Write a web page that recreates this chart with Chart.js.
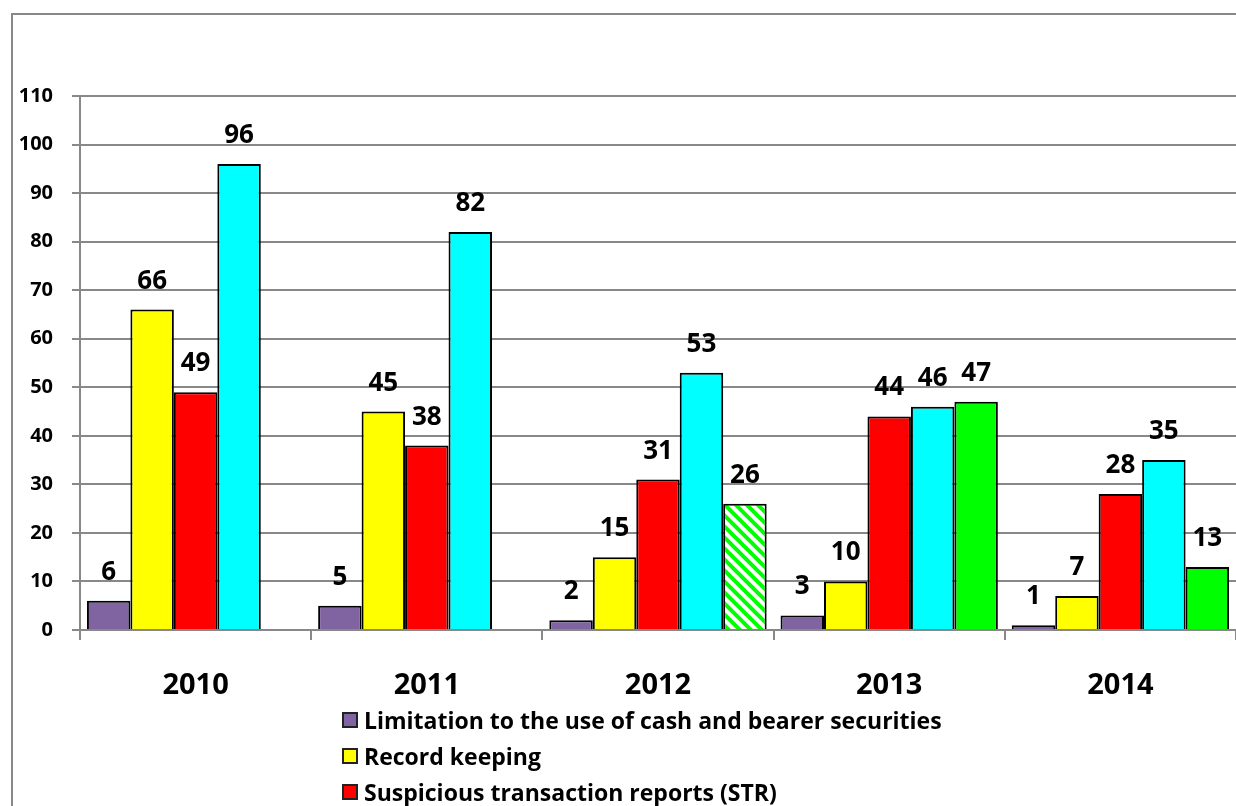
<!DOCTYPE html>
<html>
<head>
<meta charset="utf-8">
<script src="https://cdn.jsdelivr.net/npm/chart.js@4"></script>
<style>
  html, body { margin: 0; padding: 0; background: #fff; overflow: hidden; }
  #wrap { position: relative; width: 1236px; height: 806px; }
  #frame { position: absolute; left: 11px; top: 13px; width: 1300px; height: 900px; border: 2px solid #888; box-sizing: border-box; }
  #chart { position: absolute; left: 0; top: 0; }
  #legend { position: absolute; left: 342px; top: 702px; font: bold 23px "Open Sans", sans-serif; color: #000; }
  #legend div { height: 36px; display: flex; align-items: center; }
  #legend span.box { width: 12px; height: 12px; border: 2px solid #222; margin-right: 6px; display: inline-block; }
</style>
</head>
<body>
<div id="wrap">
  <div id="frame"></div>
  <canvas id="chart" width="1236" height="806"></canvas>
  <div id="legend"></div>
</div>
<script>
const years = ['2010', '2011', '2012', '2013', '2014'];
const seriesNames = [
    'Limitation to the use of cash and bearer securities',
    'Record keeping',
    'Suspicious transaction reports (STR)',
    'Customer due diligence',
    'Other'
];
const cashLimits = [6, 5, 2, 3, 1];
const recordKeeping = [66, 45, 15, 10, 7];
const strReports = [49, 38, 31, 44, 28];
const cyanSeries = [96, 82, 53, 46, 35];
const greenSeries = [null, null, 26, 47, 13];
const yTicks = [0, 10, 20, 30, 40, 50, 60, 70, 80, 90, 100, 110];
const colors = ['#8064A2', '#FFFF00', '#FF0000', '#00FFFF', '#00FF00'];
const FONT = '"Open Sans", sans-serif';

// diagonal green hatch for the 2012 bar
function makeHatch() {
    const c = document.createElement('canvas');
    c.width = 11; c.height = 11;
    const g = c.getContext('2d');
    g.fillStyle = '#fff';
    g.fillRect(0, 0, 11, 11);
    g.strokeStyle = '#00FF00';
    g.lineWidth = 4;
    g.beginPath();
    g.moveTo(-2, -2); g.lineTo(13, 13);
    g.moveTo(-13, -2); g.lineTo(2, 13);
    g.moveTo(9, -2); g.lineTo(24, 13);
    g.stroke();
    return g.createPattern(c, 'repeat');
}
const hatch = makeHatch();

const allSeries = [cashLimits, recordKeeping, strReports, cyanSeries, greenSeries];
const datasets = allSeries.map((vals, i) => ({
    label: seriesNames[i],
    data: vals,
    backgroundColor: i === 4 ? vals.map((v, j) => years[j] === '2012' ? hatch : colors[4]) : colors[i],
    borderColor: '#000',
    borderWidth: 2,
    borderSkipped: 'bottom',
    categoryPercentage: 0.94,
    barPercentage: 1.0
}));

// value labels above each bar
const valueLabels = {
    id: 'valueLabels',
    afterDatasetsDraw(chart) {
        const ctx = chart.ctx;
        ctx.save();
        ctx.font = 'bold 26px ' + FONT;
        ctx.fillStyle = '#000';
        ctx.textAlign = 'center';
        ctx.textBaseline = 'alphabetic';
        chart.data.datasets.forEach((ds, i) => {
            const meta = chart.getDatasetMeta(i);
            meta.data.forEach((bar, j) => {
                const v = ds.data[j];
                if (v === null || v === undefined) return;
                ctx.fillText(String(v), bar.x, bar.y - 21);
            });
        });
        ctx.restore();
    }
};

const ctx = document.getElementById('chart').getContext('2d');
const chart = new Chart(ctx, {
    type: 'bar',
    data: { labels: years, datasets: datasets },
    plugins: [valueLabels],
    options: {
        responsive: false,
        animation: false,
        layout: { padding: { top: 96, right: 0, bottom: 0, left: 0 } },
        plugins: {
            legend: { display: false },
            tooltip: { enabled: false }
        },
        scales: {
            x: {
                grid: { drawOnChartArea: false, color: '#888', lineWidth: 2, tickLength: 10, offset: true },
                border: { color: '#888', width: 2 },
                ticks: { color: '#000', font: { family: FONT, weight: 'bold', size: 29 }, padding: 28 },
                afterFit(scale) { scale.height = 176; }
            },
            y: {
                min: 0,
                max: 110,
                afterBuildTicks(scale) { scale.ticks = yTicks.map(v => ({ value: v })); },
                grid: { color: '#888', lineWidth: 2, tickLength: 8 },
                border: { color: '#888', width: 2 },
                ticks: { color: '#000', font: { family: FONT, weight: 'bold', size: 20 }, padding: 19 },
                afterFit(scale) { scale.width = 80; }
            }
        }
    }
});

// legend: only the first three entries fit in the visible frame
const legend = document.getElementById('legend');
seriesNames.slice(0, 3).forEach((name, i) => {
    const row = document.createElement('div');
    const box = document.createElement('span');
    box.className = 'box';
    box.style.background = colors[i];
    row.appendChild(box);
    row.appendChild(document.createTextNode(name));
    legend.appendChild(row);
});
</script>
</body>
</html>
